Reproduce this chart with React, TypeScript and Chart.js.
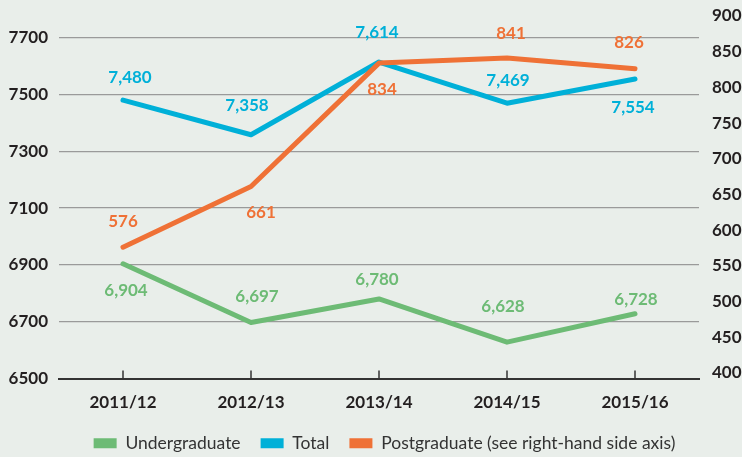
import React, { useEffect, useRef } from "react";
import { Chart, registerables } from "chart.js";

Chart.register(...registerables);

const categories = ["2011/12", "2012/13", "2013/14", "2014/15", "2015/16"];
const undergraduate = [6904, 6697, 6780, 6628, 6728];
const total = [7480, 7358, 7614, 7469, 7554];
const postgraduate = [576, 661, 834, 841, 826];
const leftTicks = [6500, 6700, 6900, 7100, 7300, 7500, 7700];
const rightTicks = [400, 450, 500, 550, 600, 650, 700, 750, 800, 850, 900];

// label placement (style), [dx, dy] from each point
const undergradLabelOffsets = [[3, 27], [6, -26], [-2, -19], [-4, -36], [1, -14]];
const totalLabelOffsets = [[7, -23], [-4, -29], [-2, -30], [1, -23], [-2, 28]];
const postgradLabelOffsets = [[0, -26], [10, 26], [3, 26], [4, -25], [-6, -26]];

const GREEN = "#6dbb75";
const BLUE = "#00b0d8";
const ORANGE = "#ef7136";
const TEXT = "#231f20";
const BG = "#e9eeea";

const valueLabels = {
  id: "valueLabels",
  afterDatasetsDraw(chart: any) {
    const ctx = chart.ctx;
    ctx.save();
    ctx.font = "bold 17px Lato";
    ctx.textAlign = "center";
    ctx.textBaseline = "middle";
    chart.data.datasets.forEach((ds: any, di: number) => {
      const meta = chart.getDatasetMeta(di);
      meta.data.forEach((pt: any, i: number) => {
        const v = ds.data[i];
        const off = ds.labelOffsets[i];
        const txt = ds.yAxisID === "yR" ? String(v) : v.toLocaleString("en-US");
        ctx.fillStyle = ds.borderColor;
        ctx.fillText(txt, pt.x + off[0], pt.y + off[1]);
      });
    });
    ctx.restore();
  },
};

const upTicks = {
  id: "upTicks",
  afterDraw(chart: any) {
    const ctx = chart.ctx;
    const xs = chart.scales.x;
    const bottom = chart.chartArea.bottom;
    ctx.save();
    ctx.strokeStyle = "#333";
    ctx.lineWidth = 1.5;
    categories.forEach((_, i) => {
      const x = xs.getPixelForValue(i);
      ctx.beginPath();
      ctx.moveTo(x, bottom - 8);
      ctx.lineTo(x, bottom);
      ctx.stroke();
    });
    ctx.restore();
  },
};

// shift the legend so it is centred like the reference
const legendShift = {
  id: "legendShift",
  afterLayout(chart: any) {
    const lg = chart.legend;
    if (lg) {
      lg.left += 9;
      lg.right += 9;
    }
  },
};

const noPad = (s: any) => {
  s.paddingTop = 0;
  s.paddingBottom = 0;
};

export default function App() {
  const ref = useRef<HTMLCanvasElement>(null);
  useEffect(() => {
    document.body.style.margin = "0";
    document.body.style.background = BG;
    const chart = new Chart(ref.current!, {
      type: "line",
      data: {
        labels: categories,
        datasets: [
          {
            label: "Undergraduate",
            data: undergraduate,
            borderColor: GREEN,
            backgroundColor: GREEN,
            yAxisID: "y",
            order: 1,
            labelOffsets: undergradLabelOffsets,
          } as any,
          {
            label: "Total",
            data: total,
            borderColor: BLUE,
            backgroundColor: BLUE,
            yAxisID: "y",
            order: 1,
            labelOffsets: totalLabelOffsets,
          } as any,
          {
            label: "Postgraduate (see right-hand side axis)",
            data: postgraduate,
            borderColor: ORANGE,
            backgroundColor: ORANGE,
            yAxisID: "yR",
            order: 0,
            labelOffsets: postgradLabelOffsets,
          } as any,
        ],
      },
      options: {
        animation: false,
        responsive: true,
        maintainAspectRatio: false,
        elements: {
          line: { borderWidth: 5, tension: 0, borderCapStyle: "round", borderJoinStyle: "round" },
          point: { radius: 0, hoverRadius: 0 },
        },
        layout: { padding: { left: 9, right: 0, top: 16, bottom: -5 } },
        plugins: {
          tooltip: { enabled: false },
          legend: {
            position: "bottom",
            labels: {
              font: { family: "Lato", size: 17.5 },
              color: "#333",
              boxWidth: 23,
              boxHeight: 10,
              padding: 20,
              sort: (a: any, b: any) => a.datasetIndex - b.datasetIndex,
              generateLabels: (c: any) =>
                c.data.datasets.map((ds: any, i: number) => ({
                  text: ds.label,
                  fillStyle: ds.borderColor,
                  strokeStyle: ds.borderColor,
                  lineWidth: 0,
                  hidden: false,
                  datasetIndex: i,
                  fontColor: "#333",
                })),
            },
          },
        },
        scales: {
          x: {
            type: "category",
            offset: true,
            grid: { display: true, drawOnChartArea: false, drawTicks: false },
            border: { display: true, color: "#333", width: 2 },
            ticks: { font: { family: "Lato", size: 17, weight: "bold" }, color: TEXT, padding: 14 },
            afterFit: (s: any) => {
              s.height = 36;
              s.paddingLeft = 0;
              s.paddingRight = 0;
            },
          },
          y: {
            type: "linear",
            position: "left",
            min: 6500,
            max: 7776,
            afterBuildTicks: (s: any) => {
              s.ticks = leftTicks.map((v) => ({ value: v }));
            },
            grid: {
              drawTicks: false,
              color: (c: any) => (c.tick && c.tick.value === 6500 ? "rgba(0,0,0,0)" : "#9a9a9a"),
              lineWidth: 1.3,
            },
            border: { display: false },
            ticks: {
              font: { family: "Lato", size: 17, weight: "bold" },
              color: TEXT,
              padding: 11,
              callback: (v: any) => String(v),
            },
            afterFit: (s: any) => {
              s.width = 50;
              noPad(s);
            },
          },
          yR: {
            type: "linear",
            position: "right",
            min: 392,
            max: 900,
            afterBuildTicks: (s: any) => {
              s.ticks = rightTicks.map((v) => ({ value: v }));
            },
            grid: { display: false, drawTicks: false },
            border: { display: false },
            ticks: {
              font: { family: "Lato", size: 17, weight: "bold" },
              color: TEXT,
              padding: 13,
              callback: (v: any) => String(v),
            },
            afterFit: (s: any) => {
              s.width = 43;
              noPad(s);
            },
          },
        },
      } as any,
      plugins: [valueLabels, upTicks, legendShift],
    });
    return () => chart.destroy();
  }, []);
  return (
    <div style={{ width: 742, height: 457, position: "relative", background: BG }}>
      <canvas ref={ref} />
    </div>
  );
}
